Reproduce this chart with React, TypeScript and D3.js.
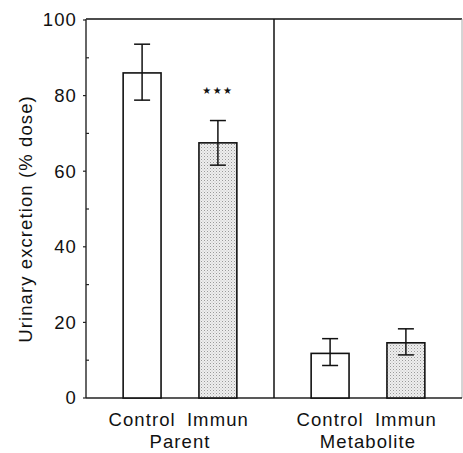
import React from "react";
import * as d3 from "d3";

const groups = ["Parent", "Metabolite"];
const treatments = ["Control", "Immun"];
const parentMeans = [86, 67.5];
const parentUpper = [93.6, 73.4];
const parentLower = [78.8, 61.6];
const metaboliteMeans = [11.8, 14.6];
const metaboliteUpper = [15.7, 18.3];
const metaboliteLower = [8.6, 11.4];
const yTicks = [0, 20, 40, 60, 80, 100];
const yMinorTicks = [10, 30, 50, 70, 90];
const yLabel = "Urinary excretion (% dose)";
const significance = ["", "★★★"];

const W = 463;
const H = 453;
const left = 86;
const right = 462;
const top = 20;
const bottom = 398;
const FONT = "'Liberation Sans', Arial, Helvetica, sans-serif";

export default function App() {
  const y = d3.scaleLinear().domain([0, 100]).range([bottom, top]);
  const gx = d3.scaleBand<string>().domain(groups).range([left, right]).padding(0);
  const ix = d3
    .scaleBand<string>()
    .domain(treatments)
    .range([0, gx.bandwidth()])
    .paddingInner(0.5)
    .paddingOuter(0.49);

  const data = [
    { g: "Parent", means: parentMeans, up: parentUpper, lo: parentLower, sig: significance },
    { g: "Metabolite", means: metaboliteMeans, up: metaboliteUpper, lo: metaboliteLower, sig: ["", ""] },
  ];
  const fontSize = 18.5;
  const ls = 1.1;

  return (
    <svg
      width={W}
      height={H}
      style={{ position: "absolute", left: 0, top: 0, background: "#fff" }}
    >
      <defs>
        <pattern id="stipple" width="3" height="3" patternUnits="userSpaceOnUse">
          <rect width="3" height="3" fill="#eeeeee" />
          <rect x="0" y="0" width="1" height="1" fill="#9a9a9a" />
          <rect x="1.5" y="1.5" width="1" height="1" fill="#c0c0c0" />
        </pattern>
      </defs>
      {/* frame */}
      <line x1={left} x2={right} y1={top - 1} y2={top - 1} stroke="#111" strokeWidth={1.5} />
      <line x1={left} x2={left} y1={top - 1} y2={bottom} stroke="#333" strokeWidth={1.5} />
      <line x1={right} x2={right} y1={top - 1} y2={bottom} stroke="#aaa" strokeWidth={1} />
      <line x1={left} x2={right} y1={bottom} y2={bottom} stroke="#222" strokeWidth={1.5} />
      <line
        x1={gx("Metabolite")!}
        x2={gx("Metabolite")!}
        y1={top - 1}
        y2={bottom}
        stroke="#111"
        strokeWidth={1.5}
      />
      {/* ticks */}
      {yTicks.map((t) => (
        <g key={t}>
          <line x1={left - 3} x2={left} y1={y(t)} y2={y(t)} stroke="#222" strokeWidth={1.2} />
          <text
            x={77}
            y={y(t)}
            dy="0.35em"
            textAnchor="end"
            fontFamily={FONT}
            fontSize={fontSize}
            letterSpacing={ls}
            fill="#111"
          >
            {t}
          </text>
        </g>
      ))}
      {yMinorTicks.map((t) => (
        <line key={t} x1={left} x2={left + 3} y1={y(t)} y2={y(t)} stroke="#222" strokeWidth={1.2} />
      ))}
      {/* y label */}
      <text
        transform={`translate(32, ${(top + bottom) / 2 + 10}) rotate(-90)`}
        textAnchor="middle"
        fontFamily={FONT}
        fontSize={fontSize}
        letterSpacing={ls}
        fill="#111"
      >
        {yLabel}
      </text>
      {data.map((d) => (
        <g key={d.g}>
          {treatments.map((t, i) => {
            const x0 = gx(d.g)! + ix(t)!;
            const bw = ix.bandwidth();
            const cx = x0 + bw / 2;
            return (
              <g key={t}>
                <rect
                  x={x0}
                  y={y(d.means[i])}
                  width={bw}
                  height={bottom - y(d.means[i])}
                  fill={i === 0 ? "#fff" : "url(#stipple)"}
                  stroke="#111"
                  strokeWidth={1.6}
                />
                <line x1={cx} x2={cx} y1={y(d.up[i])} y2={y(d.lo[i])} stroke="#111" strokeWidth={1.5} />
                <line x1={cx - 8} x2={cx + 8} y1={y(d.up[i])} y2={y(d.up[i])} stroke="#111" strokeWidth={1.5} />
                <line x1={cx - 8} x2={cx + 8} y1={y(d.lo[i])} y2={y(d.lo[i])} stroke="#111" strokeWidth={1.5} />
                {d.sig[i] && (
                  <text
                    x={cx}
                    y={y(d.up[i]) - 27}
                    textAnchor="middle"
                    fontFamily="'DejaVu Sans', sans-serif"
                    fontSize={10}
                    letterSpacing={1.5}
                    fill="#111"
                  >
                    {d.sig[i]}
                  </text>
                )}
                <text
                  x={cx}
                  y={426}
                  textAnchor="middle"
                  fontFamily={FONT}
                  fontSize={fontSize}
                  letterSpacing={ls}
                  fill="#111"
                >
                  {t}
                </text>
              </g>
            );
          })}
          <text
            x={gx(d.g)! + gx.bandwidth() / 2}
            y={448}
            textAnchor="middle"
            fontFamily={FONT}
            fontSize={fontSize}
            letterSpacing={ls}
            fill="#111"
          >
            {d.g}
          </text>
        </g>
      ))}
    </svg>
  );
}
